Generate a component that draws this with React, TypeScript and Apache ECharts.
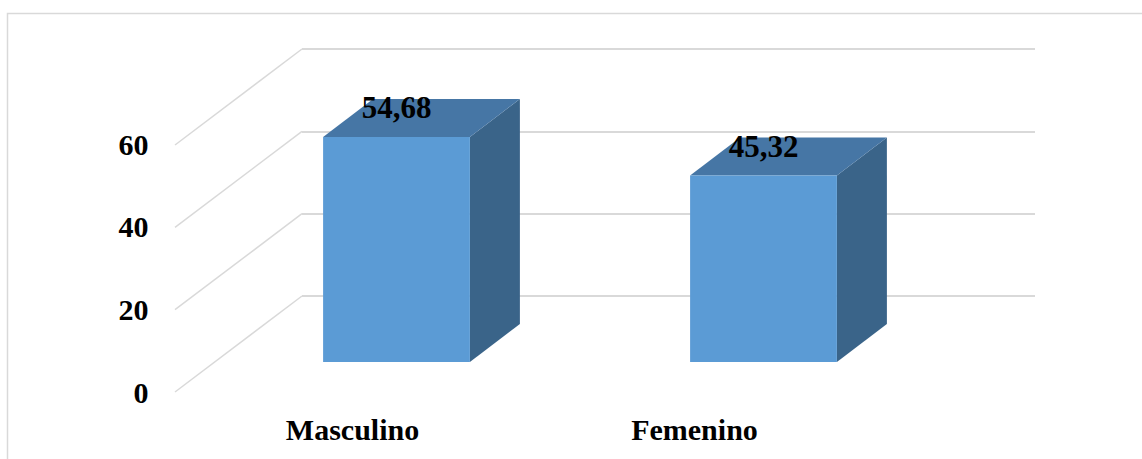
import React, { useEffect, useRef } from "react";
import * as echarts from "echarts";

// Sex distribution (%)
const categories = ["Masculino", "Femenino"];
const percentages = [54.68, 45.32];
const yTicks = [0, 20, 40, 60];

// Oblique 3D look
const FLOOR_DX = -127; // back wall -> front edge of the side wall
const FLOOR_DY = 96;
const BOX_DX = 50; // bar depth
const BOX_DY = -38;
const FONT = "Liberation Serif";
const GRID_COLOR = "#D9D9D9";

const fmt = (v: number) => v.toFixed(2).replace(".", ",");

export default function App() {
  const ref = useRef<HTMLDivElement>(null);

  useEffect(() => {
    if (!ref.current) return;
    const chart = echarts.init(ref.current, undefined, { renderer: "svg" });

    const option: any = {
      animation: false,
      backgroundColor: "#ffffff",
      graphic: [
        {
          type: "rect",
          silent: true,
          z: -10,
          shape: { x: 7.5, y: 13.5, width: 1300, height: 600 },
          style: { fill: "none", stroke: GRID_COLOR, lineWidth: 1.5 },
        },
      ],
      grid: [
        // front plane: axis labels
        { left: 181.5, top: 144, width: 684, height: 248 },
        // back wall
        { left: 302, top: 49, width: 733, height: 247 },
        // bar front faces
        { left: 213, top: 115, width: 734, height: 247 },
      ],
      xAxis: [
        {
          gridIndex: 0,
          type: "category",
          data: categories,
          axisLine: { show: false },
          axisTick: { show: false },
          axisLabel: {
            margin: 22,
            fontFamily: FONT,
            fontWeight: "bold",
            fontSize: 30,
            color: "#000",
          },
        },
        { gridIndex: 1, type: "value", min: 0, max: 1, show: false },
        { gridIndex: 2, type: "category", data: categories, show: false },
      ],
      yAxis: [
        {
          gridIndex: 0,
          type: "value",
          min: 0,
          max: 60,
          interval: 20,
          axisLine: { show: false },
          axisTick: { show: false },
          splitLine: { show: false },
          axisLabel: {
            margin: 33,
            fontFamily: FONT,
            fontWeight: "bold",
            fontSize: 30,
            color: "#000",
          },
        },
        {
          gridIndex: 1,
          type: "value",
          min: 0,
          max: 60,
          interval: 20,
          axisLine: { show: false },
          axisTick: { show: false },
          axisLabel: { show: false },
          splitLine: { show: true, lineStyle: { color: GRID_COLOR, width: 2 } },
        },
        { gridIndex: 2, type: "value", min: 0, max: 60, show: false },
      ],
      series: [
        {
          // side-wall gridlines running from the back wall to the front edge
          type: "custom",
          xAxisIndex: 1,
          yAxisIndex: 1,
          silent: true,
          z: 1,
          data: yTicks.map((t) => [0, t]),
          renderItem: (_params: any, api: any) => {
            const p = api.coord([api.value(0), api.value(1)]);
            return {
              type: "line",
              shape: { x1: p[0] + FLOOR_DX, y1: p[1] + FLOOR_DY, x2: p[0], y2: p[1] },
              style: { stroke: GRID_COLOR, lineWidth: 1.5 },
            };
          },
        },
        {
          // 3D columns
          type: "custom",
          xAxisIndex: 2,
          yAxisIndex: 2,
          z: 5,
          data: percentages.map((v, i) => [i, v]),
          renderItem: (_params: any, api: any) => {
            const idx = api.value(0);
            const val = api.value(1);
            const top = api.coord([idx, val]);
            const base = api.coord([idx, 0]);
            const w = api.size([1, 0])[0] * 0.4;
            const x0 = top[0] - w / 2;
            const x1 = top[0] + w / 2;
            const yt = top[1];
            const yb = base[1];
            return {
              type: "group",
              children: [
                {
                  type: "polygon",
                  shape: {
                    points: [
                      [x1, yt],
                      [x1 + BOX_DX, yt + BOX_DY],
                      [x1 + BOX_DX, yb + BOX_DY],
                      [x1, yb],
                    ],
                  },
                  style: { fill: "#3A6489" },
                },
                {
                  type: "polygon",
                  shape: {
                    points: [
                      [x0, yt],
                      [x0 + BOX_DX, yt + BOX_DY],
                      [x1 + BOX_DX, yt + BOX_DY],
                      [x1, yt],
                    ],
                  },
                  style: { fill: "#4676A5" },
                },
                {
                  type: "rect",
                  shape: { x: x0, y: yt, width: w, height: yb - yt },
                  style: { fill: "#5B9BD5" },
                },
                {
                  type: "text",
                  style: {
                    x: top[0],
                    y: yt - 29,
                    text: fmt(val),
                    align: "center",
                    verticalAlign: "middle",
                    fontFamily: FONT,
                    fontWeight: "bold",
                    fontSize: 31,
                    fill: "#000",
                  },
                },
              ],
            };
          },
        },
      ],
    };

    chart.setOption(option);
    return () => chart.dispose();
  }, []);

  return (
    <div
      ref={ref}
      style={{ position: "fixed", left: 0, top: 0, width: 1142, height: 459 }}
    />
  );
}
